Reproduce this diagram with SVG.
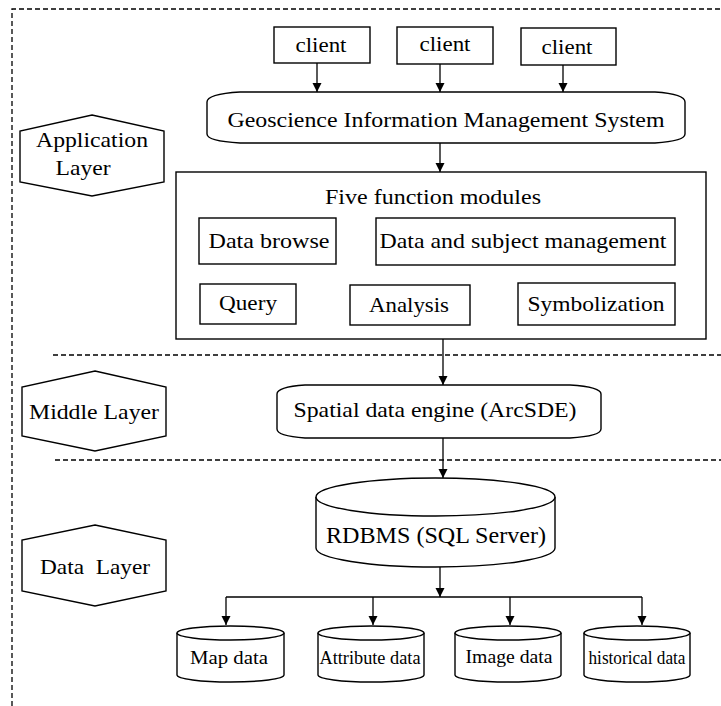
<svg xmlns="http://www.w3.org/2000/svg" width="721" height="706" viewBox="0 0 721 706">
<style>
.b{fill:#fff;stroke:#000;stroke-width:1.4}
.d{fill:none;stroke:#000;stroke-width:1.3;stroke-dasharray:5 3}
.c{fill:none;stroke:#000;stroke-width:1.3}
text{font-family:"Liberation Serif","Times New Roman",serif;fill:#000;text-anchor:middle}
.t{font-size:22px}
.s{font-size:18px}
</style>
<defs>
<marker id="ah" markerWidth="10" markerHeight="10" refX="9" refY="5" orient="auto" markerUnits="userSpaceOnUse">
<path d="M0,0.5 L9,5 L0,9.5 Z" fill="#000"/>
</marker>
</defs>
<rect width="721" height="706" fill="#fff"/>
<g id="layers">
<path class="d" d="M12,706 V9 H721"/>
<path class="d" d="M53,355 H721"/>
<path class="d" d="M55,460 H721"/>
</g>
<g id="connectors">
<path class="c" d="M317,63 V92" marker-end="url(#ah)"/>
<path class="c" d="M440,64 V92" marker-end="url(#ah)"/>
<path class="c" d="M563,65 V92" marker-end="url(#ah)"/>
<path class="c" d="M440,143 V172" marker-end="url(#ah)"/>
<path class="c" d="M443,339 V385" marker-end="url(#ah)"/>
<path class="c" d="M443,438 V478" marker-end="url(#ah)"/>
<path class="c" d="M440,567 V597" marker-end="url(#ah)"/>
<path class="c" d="M226,597 H642"/>
<path class="c" d="M226,597 V625" marker-end="url(#ah)"/>
<path class="c" d="M373,597 V625" marker-end="url(#ah)"/>
<path class="c" d="M510,597 V625" marker-end="url(#ah)"/>
<path class="c" d="M642,597 V625" marker-end="url(#ah)"/>
</g>
<g id="app-layer">
<path class="b" d="M92,115 L164,131 V182 L92,196 L20,182 V131 Z"/>
<text class="t" x="92" y="147" textLength="112" lengthAdjust="spacingAndGlyphs">Application</text>
<text class="t" x="83" y="175" textLength="55" lengthAdjust="spacingAndGlyphs">Layer</text>
</g>
<g id="middle-layer">
<path class="b" d="M95,371 L166,387 V436 L95,451 L22,436 V387 Z"/>
<text class="t" x="94" y="419" textLength="130" lengthAdjust="spacingAndGlyphs">Middle Layer</text>
</g>
<g id="data-layer">
<path class="b" d="M95,525 L166,540 V591 L95,606 L22,591 V540 Z"/>
<text class="t" x="95" y="574" textLength="110" lengthAdjust="spacingAndGlyphs" xml:space="preserve">Data  Layer</text>
</g>
<g id="client1">
<rect class="b" x="274" y="27" width="96" height="36"/>
<text class="t" x="321" y="52" textLength="51" lengthAdjust="spacingAndGlyphs">client</text>
</g>
<g id="client2">
<rect class="b" x="397" y="27" width="96" height="37"/>
<text class="t" x="445" y="51" textLength="51" lengthAdjust="spacingAndGlyphs">client</text>
</g>
<g id="client3">
<rect class="b" x="521" y="28" width="95" height="37"/>
<text class="t" x="567" y="54" textLength="51" lengthAdjust="spacingAndGlyphs">client</text>
</g>
<g id="gims">
<path class="b" d="M240,92 H655 Q685,94 685,102 V134 Q685,141 655,143 H240 Q207,141 207,134 V102 Q207,94 240,92 Z"/>
<text class="t" x="446" y="127" textLength="437" lengthAdjust="spacingAndGlyphs">Geoscience Information Management System</text>
</g>
<g id="modules">
<rect class="b" x="176" y="172" width="530" height="167"/>
<text class="t" x="433" y="204" textLength="216" lengthAdjust="spacingAndGlyphs">Five function modules</text>
</g>
<g id="data-browse">
<rect class="b" x="199" y="218" width="137" height="46"/>
<text class="t" x="269" y="248" textLength="121" lengthAdjust="spacingAndGlyphs">Data browse</text>
</g>
<g id="data-subject">
<rect class="b" x="376" y="218" width="299" height="47"/>
<text class="t" x="523" y="248" textLength="287" lengthAdjust="spacingAndGlyphs">Data and subject management</text>
</g>
<g id="query">
<rect class="b" x="200" y="284" width="96" height="40"/>
<text class="t" x="248" y="310" textLength="58" lengthAdjust="spacingAndGlyphs">Query</text>
</g>
<g id="analysis">
<rect class="b" x="350" y="285" width="120" height="40"/>
<text class="t" x="409" y="312" textLength="80" lengthAdjust="spacingAndGlyphs">Analysis</text>
</g>
<g id="symbolization">
<rect class="b" x="518" y="283" width="157" height="42"/>
<text class="t" x="596" y="311" textLength="137" lengthAdjust="spacingAndGlyphs">Symbolization</text>
</g>
<g id="sde">
<path class="b" d="M305,385 H570 Q601,387 601,394 V429 Q601,436 570,438 H305 Q277,436 277,429 V394 Q277,387 305,385 Z"/>
<text class="t" x="435" y="417" textLength="283" lengthAdjust="spacingAndGlyphs">Spatial data engine (ArcSDE)</text>
</g>
<g id="rdbms">
<path class="b" d="M316,497 V548 A119.5,19 0 0 0 555,548 V497"/>
<ellipse class="b" cx="435.5" cy="497" rx="119.5" ry="19"/>
<text x="436" y="543" font-size="23" textLength="220" lengthAdjust="spacingAndGlyphs">RDBMS (SQL Server)</text>
</g>
<g id="map-data">
<path class="b" d="M177,633 V675 A53.5,7 0 0 0 284,675 V633"/>
<ellipse class="b" cx="230.5" cy="633" rx="53.5" ry="7"/>
<text class="s" x="229" y="664" textLength="78" lengthAdjust="spacingAndGlyphs">Map data</text>
</g>
<g id="attribute-data">
<path class="b" d="M318,633 V675 A53,7 0 0 0 424,675 V633"/>
<ellipse class="b" cx="371" cy="633" rx="53" ry="7"/>
<text class="s" x="370" y="664" textLength="101" lengthAdjust="spacingAndGlyphs">Attribute data</text>
</g>
<g id="image-data">
<path class="b" d="M455,633 V675 A53,7 0 0 0 561,675 V633"/>
<ellipse class="b" cx="508" cy="633" rx="53" ry="7"/>
<text class="s" x="509" y="663" textLength="87" lengthAdjust="spacingAndGlyphs">Image data</text>
</g>
<g id="historical-data">
<path class="b" d="M584,633 V675 A53,7 0 0 0 690,675 V633"/>
<ellipse class="b" cx="637" cy="633" rx="53" ry="7"/>
<text class="s" x="637" y="664" textLength="97" lengthAdjust="spacingAndGlyphs">historical data</text>
</g>
</svg>
